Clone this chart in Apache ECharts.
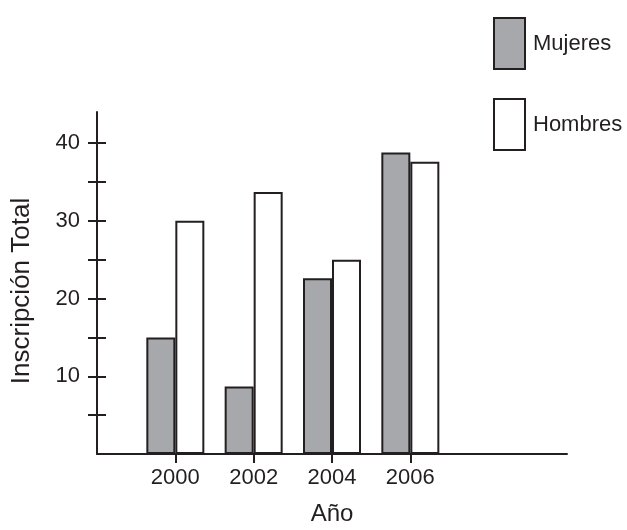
<!DOCTYPE html>
<html>
<head>
<meta charset="utf-8">
<script src="https://cdn.jsdelivr.net/npm/echarts@6/dist/echarts.min.js"></script>
<style>
  html, body { margin: 0; padding: 0; background: #fff; }
  #chart { width: 627px; height: 530px; }
</style>
</head>
<body>
<div id="chart"></div>
<script>
// years on the axis (1998..2010); only 2000-2006 get a label and tick
var years = ['1998', '2000', '2002', '2004', '2006', '2008', '2010']
var labeledYears = ['2000', '2002', '2004', '2006']
var mujeres = [null, 15, 8.7, 22.6, 38.8, null, null]
var hombres = [null, 30, 33.7, 25, 37.6, null, null]
var yTicks = [5, 10, 15, 20, 25, 30, 35, 40]
var yLabels = [10, 20, 30, 40]

var ink = '#231f20'
var font = '"Liberation Sans", Arial, sans-serif'

var chart = echarts.init(document.getElementById('chart'))

function showYear(idx, val) {
  return labeledYears.indexOf(val) >= 0
}

chart.setOption({
  animation: false,
  textStyle: { fontFamily: font },
  grid: { left: 97, right: 60, top: 112, bottom: 76, outerBoundsMode: 'none' },
  legend: {
    orient: 'vertical',
    left: 488,
    top: 12,
    icon: 'rect',
    itemWidth: 31,
    itemHeight: 51,
    itemGap: 28,
    textStyle: { fontSize: 22, color: ink, fontFamily: font, padding: [0, 0, 0, 3] },
    data: ['Mujeres', 'Hombres']
  },
  xAxis: {
    type: 'category',
    data: years,
    boundaryGap: false,
    name: 'Año',
    nameLocation: 'middle',
    nameGap: 48,
    nameTextStyle: { fontSize: 24, color: ink, fontFamily: font },
    axisLine: { lineStyle: { color: ink, width: 2 } },
    axisTick: { show: true, interval: showYear, length: 9, lineStyle: { color: ink, width: 2 } },
    axisLabel: { interval: showYear, fontSize: 22, color: ink, margin: 13, fontFamily: font },
    splitLine: { show: false }
  },
  yAxis: [
    {
      type: 'value',
      min: 0,
      max: 44,
      name: 'Inscripción Total',
      nameLocation: 'middle',
      nameGap: 62,
      nameRotate: 90,
      nameTextStyle: { fontSize: 26, color: ink, fontFamily: font, padding: [0, 16, 0, 0] },
      axisLine: { show: true, lineStyle: { color: ink, width: 2 } },
      axisTick: { show: true, customValues: yTicks, length: 9, lineStyle: { color: ink, width: 2 } },
      axisLabel: { customValues: yLabels, fontSize: 22, color: ink, margin: 17, fontFamily: font },
      splitLine: { show: false }
    },
    {
      type: 'value',
      min: 0,
      max: 44,
      position: 'left',
      axisLine: { show: false },
      axisTick: { show: true, inside: true, customValues: yTicks, length: 9, lineStyle: { color: ink, width: 2 } },
      axisLabel: { show: false },
      splitLine: { show: false }
    }
  ],
  series: [
    {
      name: 'Mujeres',
      type: 'bar',
      data: mujeres,
      barWidth: 29,
      barGap: 0,
      itemStyle: { color: '#a7a8ab', borderColor: ink, borderWidth: 2 }
    },
    {
      name: 'Hombres',
      type: 'bar',
      data: hombres,
      barWidth: 29,
      barGap: 0,
      itemStyle: { color: '#ffffff', borderColor: ink, borderWidth: 2 }
    }
  ]
})
</script>
</body>
</html>
